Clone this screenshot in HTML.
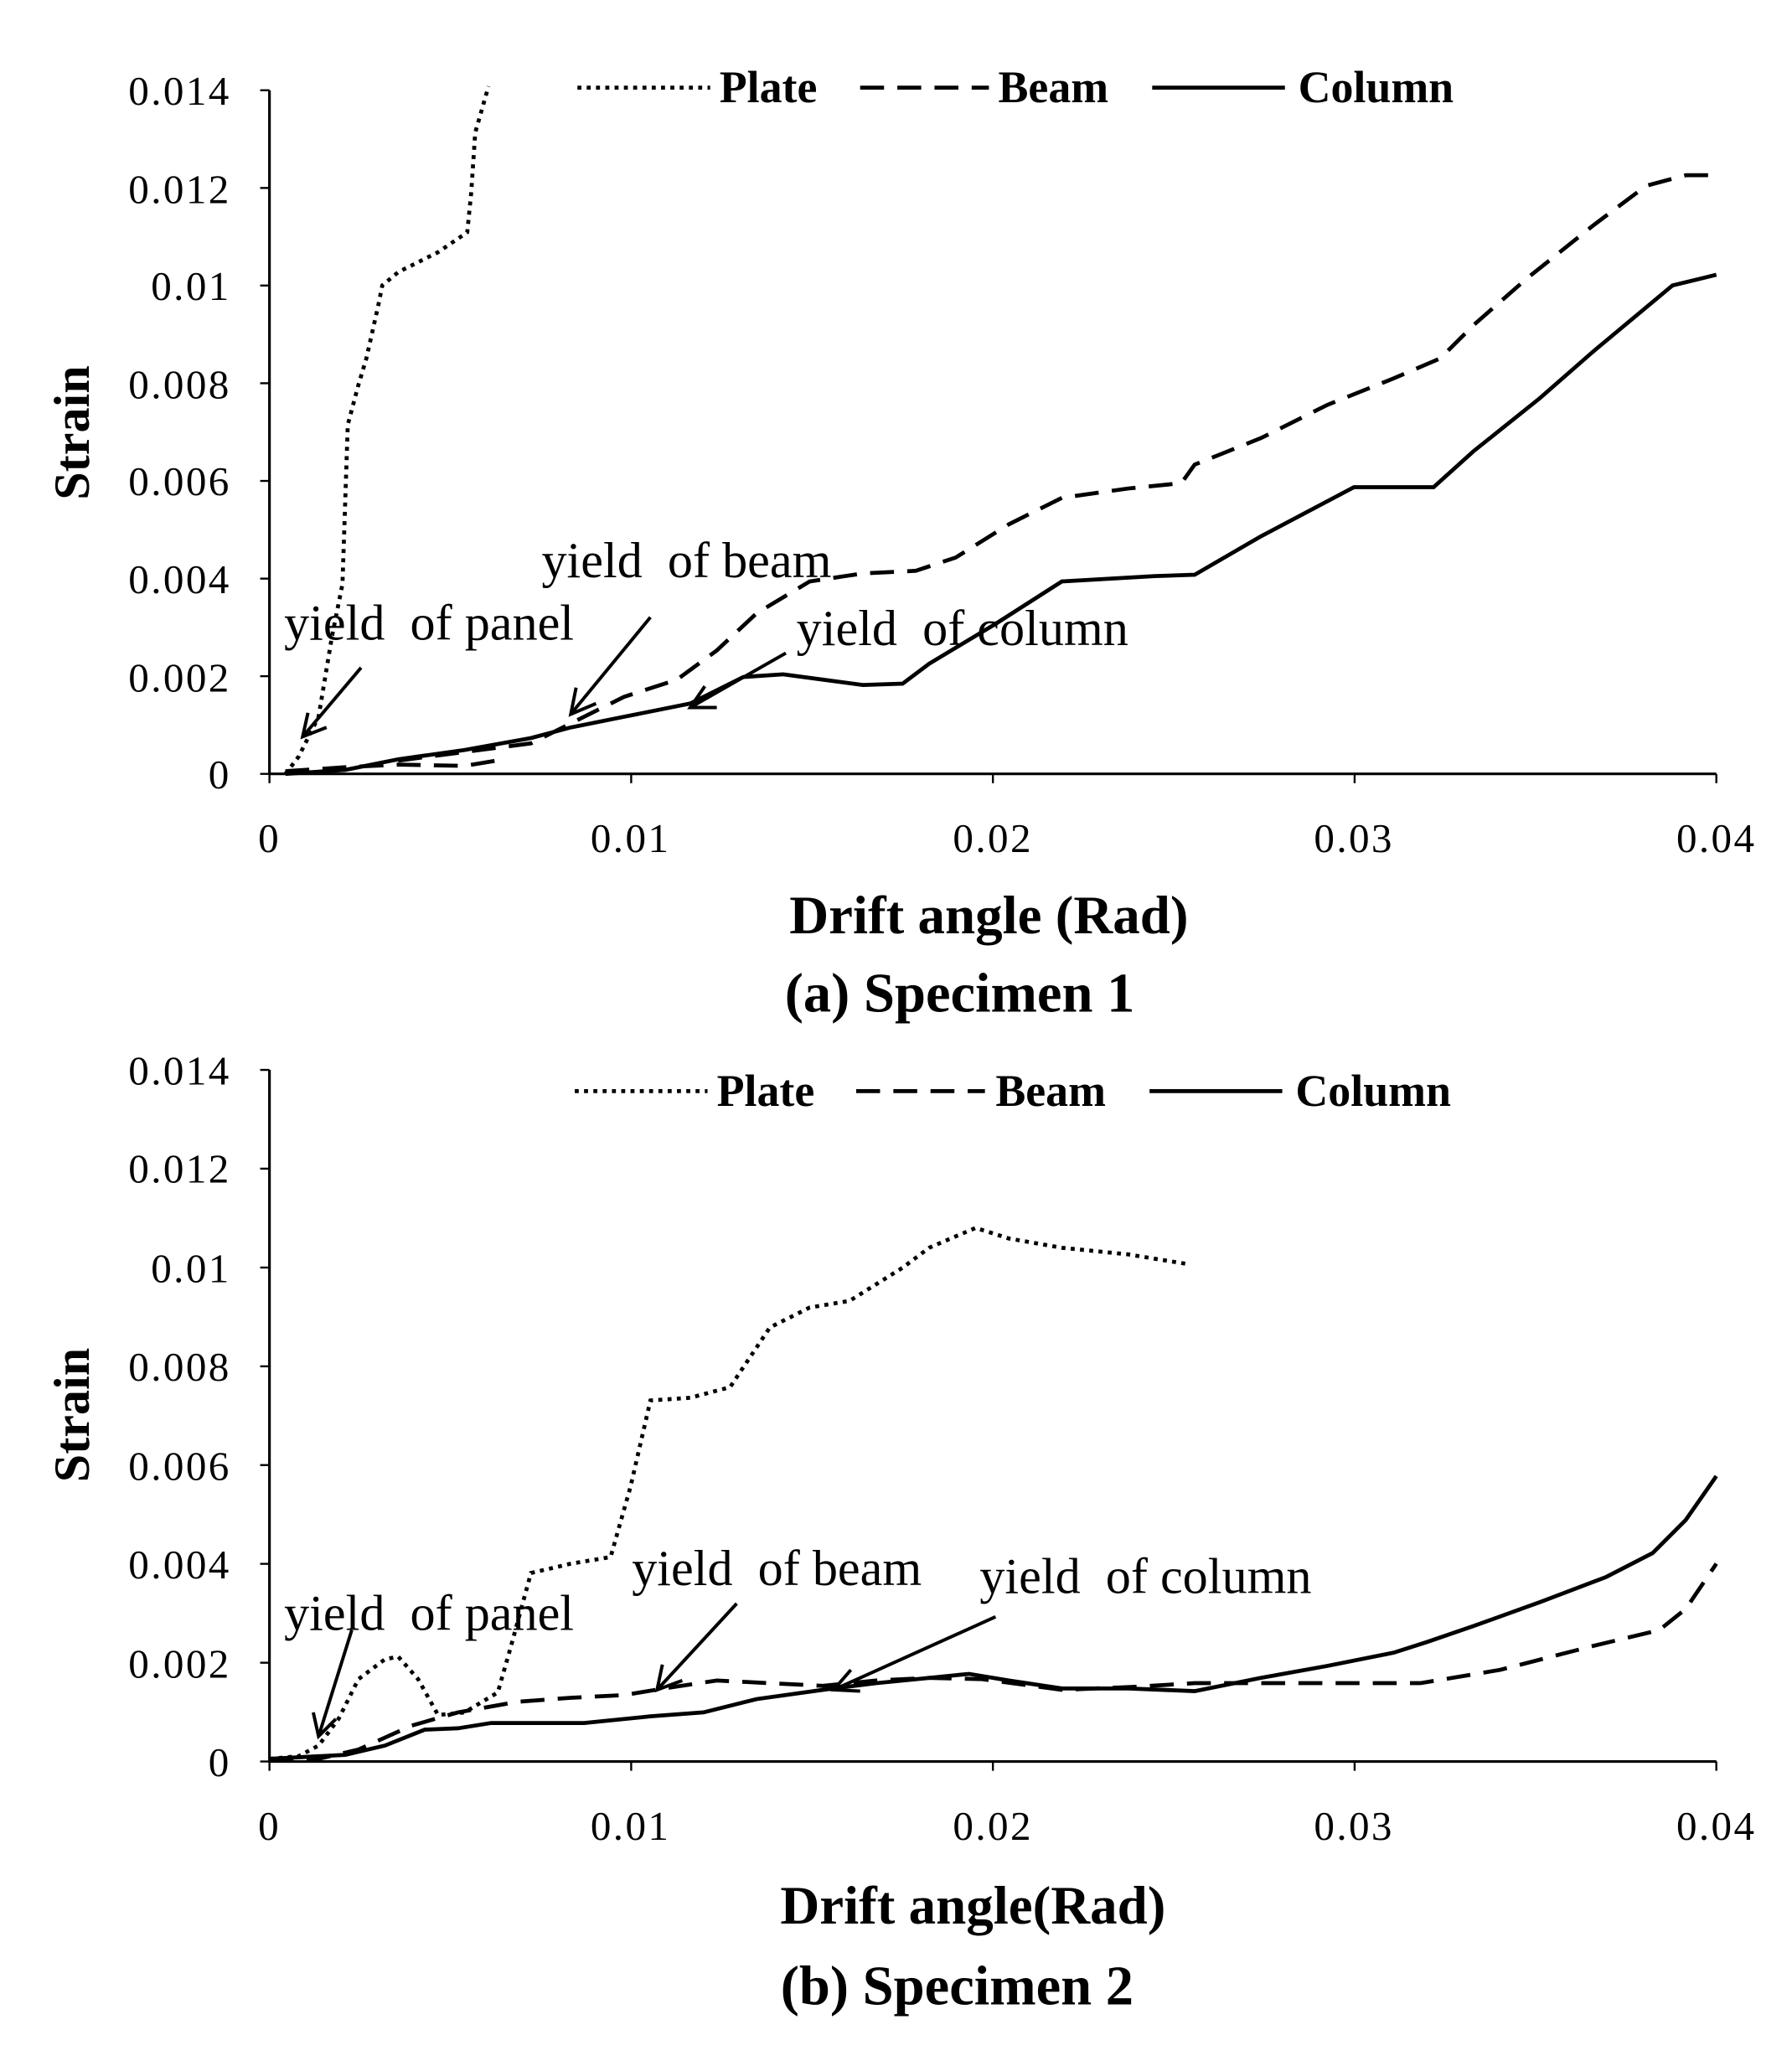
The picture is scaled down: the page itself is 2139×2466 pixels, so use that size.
<!DOCTYPE html>
<html><head><meta charset="utf-8"><style>
html,body{margin:0;padding:0;background:#fff;}
svg{display:block;}
.t{font-family:"Liberation Serif",serif;font-size:31px;letter-spacing:1.5px;fill:#000;}
.b{font-family:"Liberation Serif",serif;font-weight:bold;fill:#000;}
.a{font-family:"Liberation Serif",serif;font-size:38px;fill:#000;}
</style></head><body>
<svg width="2139" height="2466" viewBox="0 0 1350 1556.4" preserveAspectRatio="none" xmlns="http://www.w3.org/2000/svg">
<rect width="1350" height="1557" fill="#fff"/>
<!-- TOP CHART -->
<g stroke="#000" stroke-width="2" fill="none">
<line x1="203" y1="68" x2="203" y2="583"/>
<line x1="203" y1="583" x2="1293" y2="583"/>
<g stroke-width="1.5">
<line x1="196" y1="68" x2="203" y2="68"/><line x1="196" y1="141.6" x2="203" y2="141.6"/><line x1="196" y1="215.1" x2="203" y2="215.1"/><line x1="196" y1="288.7" x2="203" y2="288.7"/><line x1="196" y1="362.3" x2="203" y2="362.3"/><line x1="196" y1="435.9" x2="203" y2="435.9"/><line x1="196" y1="509.4" x2="203" y2="509.4"/><line x1="196" y1="583" x2="203" y2="583"/>
<line x1="203" y1="583" x2="203" y2="590"/><line x1="475.5" y1="583" x2="475.5" y2="590"/><line x1="748" y1="583" x2="748" y2="590"/><line x1="1020.5" y1="583" x2="1020.5" y2="590"/><line x1="1293" y1="583" x2="1293" y2="590"/>
</g>
<polyline stroke-width="3" stroke-dasharray="3,4" points="215,583 225,570 240,540 250,480 258,440 262,320 270,290 276,270 285,230 288,215 300,205 330,190 352,175 355,145 358,100 368,65"/>
<polyline stroke-width="3" stroke-dasharray="18,10" points="215,581 260,578 300,576 350,577 380,572"/>
<polyline stroke-width="3" stroke-dasharray="18,10" points="300,573 400,560 430,545 470,525 510,512 540,490 570,462 610,438 650,432 690,430 720,420 760,395 800,375 850,368 890,364 900,350 950,330 1000,305 1050,285 1085,270 1110,245 1150,210 1200,170 1240,140 1270,132 1293,132"/>
<polyline stroke-width="3" points="215,583 260,580 300,572 350,565 400,556 430,548 470,540 520,530 560,510 590,508 620,512 650,516 680,515 700,500 750,470 800,438 870,434 900,433 950,404 1020,367 1080,367 1110,340 1160,300 1200,265 1260,215 1293,207"/>
<line x1="435" y1="66" x2="535" y2="66" stroke-width="3" stroke-dasharray="3,4"/>
<line x1="648" y1="66" x2="745" y2="66" stroke-width="3" stroke-dasharray="18,10"/>
<line x1="868" y1="66" x2="968" y2="66" stroke-width="3"/>
<g stroke-width="2.5">
<line x1="272" y1="503" x2="228" y2="555"/><polyline points="232,537 228,555 246,548"/>
<line x1="490" y1="465" x2="430" y2="538"/><polyline points="434,518 430,538 449,530"/>
<line x1="592" y1="492" x2="520" y2="533"/><polyline points="531,517 520,533 540,533"/>
</g>
</g>
<g class="t" text-anchor="end">
<text x="174" y="79">0.014</text><text x="174" y="153">0.012</text><text x="174" y="226">0.01</text><text x="174" y="300">0.008</text><text x="174" y="373">0.006</text><text x="174" y="447">0.004</text><text x="174" y="521">0.002</text><text x="174" y="594">0</text>
</g>
<g class="t" text-anchor="middle">
<text x="203" y="642">0</text><text x="475" y="642">0.01</text><text x="748" y="642">0.02</text><text x="1020" y="642">0.03</text><text x="1293" y="642">0.04</text>
</g>
<g class="b" font-size="34"><text x="542" y="77">Plate</text><text x="752" y="77">Beam</text><text x="978" y="77">Column</text></g>
<text class="b" font-size="41" x="745" y="703" text-anchor="middle">Drift angle (Rad)</text>
<text class="b" font-size="42" x="723" y="762" text-anchor="middle">(a) Specimen 1</text>
<text class="b" font-size="38" transform="translate(67,326) rotate(-90)" text-anchor="middle">Strain</text>
<text class="a" x="214" y="482">yield&#160; of panel</text>
<text class="a" x="408" y="435">yield&#160; of beam</text>
<text class="a" x="600" y="486">yield&#160; of column</text>

<!-- BOTTOM CHART -->
<g stroke="#000" stroke-width="2" fill="none">
<line x1="203" y1="806" x2="203" y2="1327"/>
<line x1="203" y1="1327" x2="1293" y2="1327"/>
<g stroke-width="1.5">
<line x1="196" y1="806" x2="203" y2="806"/><line x1="196" y1="880.4" x2="203" y2="880.4"/><line x1="196" y1="954.9" x2="203" y2="954.9"/><line x1="196" y1="1029.3" x2="203" y2="1029.3"/><line x1="196" y1="1103.7" x2="203" y2="1103.7"/><line x1="196" y1="1178.1" x2="203" y2="1178.1"/><line x1="196" y1="1252.6" x2="203" y2="1252.6"/><line x1="196" y1="1327" x2="203" y2="1327"/>
<line x1="203" y1="1327" x2="203" y2="1334"/><line x1="475.5" y1="1327" x2="475.5" y2="1334"/><line x1="748" y1="1327" x2="748" y2="1334"/><line x1="1020.5" y1="1327" x2="1020.5" y2="1334"/><line x1="1293" y1="1327" x2="1293" y2="1334"/>
</g>
<polyline stroke-width="3" stroke-dasharray="3,4" points="203,1325 225,1323 240,1315 255,1295 270,1265 290,1250 300,1248 315,1265 330,1292 350,1290 375,1275 385,1240 400,1185 430,1178 460,1173 475,1120 490,1055 520,1053 550,1045 580,1000 610,985 640,980 680,955 700,940 735,925 760,933 800,940 850,945 893,952"/>
<polyline stroke-width="3" stroke-dasharray="18,10" points="203,1325 240,1325 270,1318 310,1300 345,1290 390,1282 430,1279 470,1277 500,1272 540,1266 580,1268 620,1270 660,1266 700,1264 740,1265 800,1273 850,1271 900,1268 950,1268 1000,1268 1070,1268 1130,1258 1200,1240 1250,1228 1270,1212 1293,1178"/>
<polyline stroke-width="3" points="203,1325 260,1322 290,1315 320,1303 345,1302 370,1298 440,1298 490,1293 530,1290 570,1280 620,1273 660,1268 700,1264 730,1261 760,1266 800,1272 850,1272 900,1274 950,1264 1000,1255 1050,1245 1075,1237 1110,1225 1160,1207 1210,1188 1245,1170 1270,1145 1293,1112"/>
<line x1="433" y1="822" x2="533" y2="822" stroke-width="3" stroke-dasharray="3,4"/>
<line x1="645" y1="822" x2="742" y2="822" stroke-width="3" stroke-dasharray="18,10"/>
<line x1="866" y1="822" x2="966" y2="822" stroke-width="3"/>
<g stroke-width="2.5">
<line x1="265" y1="1228" x2="240" y2="1308"/><polyline points="236,1290 240,1308 253,1295"/>
<line x1="555" y1="1208" x2="495" y2="1273"/><polyline points="499,1254 495,1273 514,1266"/>
<line x1="750" y1="1218" x2="628" y2="1273"/><polyline points="641,1258 628,1273 648,1274"/>
</g>
</g>
<g class="t" text-anchor="end">
<text x="174" y="817">0.014</text><text x="174" y="891">0.012</text><text x="174" y="966">0.01</text><text x="174" y="1040">0.008</text><text x="174" y="1115">0.006</text><text x="174" y="1189">0.004</text><text x="174" y="1264">0.002</text><text x="174" y="1338">0</text>
</g>
<g class="t" text-anchor="middle">
<text x="203" y="1386">0</text><text x="475" y="1386">0.01</text><text x="748" y="1386">0.02</text><text x="1020" y="1386">0.03</text><text x="1293" y="1386">0.04</text>
</g>
<g class="b" font-size="34"><text x="540" y="833">Plate</text><text x="750" y="833">Beam</text><text x="976" y="833">Column</text></g>
<text class="b" font-size="41" x="733" y="1449" text-anchor="middle">Drift angle(Rad)</text>
<text class="b" font-size="42" x="721" y="1510" text-anchor="middle">(b) Specimen 2</text>
<text class="b" font-size="38" transform="translate(67,1066) rotate(-90)" text-anchor="middle">Strain</text>
<text class="a" x="214" y="1228">yield&#160; of panel</text>
<text class="a" x="476" y="1194">yield&#160; of beam</text>
<text class="a" x="738" y="1200">yield&#160; of column</text>
</svg>
</body></html>
